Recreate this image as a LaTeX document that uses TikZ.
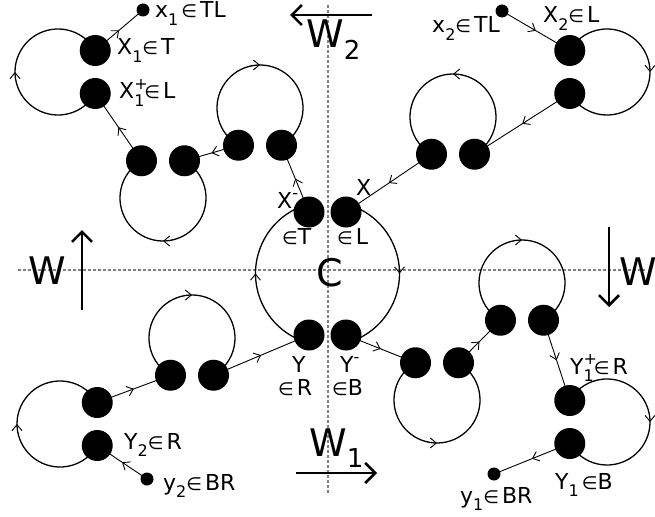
\documentclass[tikz,border=0pt]{standalone}
\usepackage{fontspec}
\setmainfont{DejaVu Sans}
\usetikzlibrary{calc,arrows.meta,decorations.markings}
\pgfdeclarelayer{bg}
\pgfsetlayers{bg,main}
\newcommand\sbs[1]{\raisebox{-0.32em}{\fontsize{16}{16}\selectfont #1}}
\newcommand\sps[1]{\raisebox{0.42em}{\fontsize{16}{16}\selectfont #1}}
\newcommand\bsbs[1]{\raisebox{-0.3em}{\fontsize{26}{26}\selectfont #1}}
\newcommand\inn{{\fontsize{18}{18}\selectfont ∈}}
\newcommand\gp{\hspace{3pt}}
\begin{document}
\begin{tikzpicture}[x=1pt,y=1pt,
  dot/.style={circle,fill=black,draw=none,minimum size=31pt,inner sep=0pt},
  smalldot/.style={circle,fill=black,draw=none,minimum size=13pt,inner sep=0pt},
  flow/.style={line width=0.9pt,postaction={decorate},
    decoration={markings,mark=at position 0.5 with {\arrow{Straight Barb[length=6pt,width=10pt,line width=0.9pt]}}}},
  loopline/.style={flow,line width=1.3pt},
  wdir/.style={line width=2.6pt,-{Straight Barb[length=10pt,width=20pt,line width=2.6pt]}},
  gridline/.style={draw=gray,line width=1.2pt,dash pattern=on 3pt off 2pt},
  lab/.style={font=\fontsize{22}{26}\selectfont,inner sep=0pt},
  big/.style={font=\fontsize{38}{44}\selectfont,inner sep=0pt}]
\useasboundingbox (0,0) rectangle (655,-516);
\begin{pgfonlayer}{bg}
\fill[white] (0,0) rectangle (655,-516);
\end{pgfonlayer}

% loop centres
\coordinate (c1) at (58,-72);
\coordinate (c2) at (163,-198);
\coordinate (c3) at (260,-108);
\coordinate (c4) at (607,-72);
\coordinate (c5) at (453,-117);
\coordinate (c6) at (192,-338);
\coordinate (c7) at (60,-424);
\coordinate (c8) at (437,-400);
\coordinate (c9) at (522,-283);
\coordinate (c10) at (607,-422);
\coordinate (cC) at (327.5,-273.5);

% big dots
\node[dot] (X1) at ($(c1)+(30:43)$) {};
\node[dot] (X1p) at ($(c1)+(-30:43)$) {};
\node[dot] (A2) at ($(c2)+(120:43)$) {};
\node[dot] (B2) at ($(c2)+(60:43)$) {};
\node[dot] (A3) at ($(c3)+(240:43)$) {};
\node[dot] (B3) at ($(c3)+(-60:43)$) {};
\node[dot] (X2) at ($(c4)+(150:43)$) {};
\node[dot] (D4) at ($(c4)+(210:43)$) {};
\node[dot] (A5) at ($(c5)+(240:43)$) {};
\node[dot] (B5) at ($(c5)+(-60:43)$) {};
\node[dot] (A6) at ($(c6)+(240:43)$) {};
\node[dot] (B6) at ($(c6)+(-60:43)$) {};
\node[dot] (E7) at ($(c7)+(30:43)$) {};
\node[dot] (Y2) at ($(c7)+(-30:43)$) {};
\node[dot] (A8) at ($(c8)+(120:43)$) {};
\node[dot] (B8) at ($(c8)+(60:43)$) {};
\node[dot] (A9) at ($(c9)+(240:43)$) {};
\node[dot] (B9) at ($(c9)+(-60:43)$) {};
\node[dot] (Y1p) at ($(c10)+(150:43)$) {};
\node[dot] (Y1) at ($(c10)+(210:43)$) {};
\node[dot] (Xm) at (309,-212) {};
\node[dot] (Xp) at (346,-212) {};
\node[dot] (Ym) at (309,-335) {};
\node[dot] (Yp) at (346,-335) {};

% small dots
\node[smalldot] (x1) at (143,-10) {};
\node[smalldot] (x2) at (502,-11) {};
\node[smalldot] (y2) at (147,-479) {};
\node[smalldot] (y1) at (494,-474) {};

% W arrows end points
\coordinate (w2s) at (372,-15); \coordinate (w2e) at (290,-15);
\coordinate (wls) at (82,-310); \coordinate (wle) at (82,-230);
\coordinate (wrs) at (609,-227); \coordinate (wre) at (609,-307);
\coordinate (w1s) at (296,-473); \coordinate (w1e) at (377,-473);
\coordinate (vT) at (328,-5); \coordinate (vB) at (328,-495);
\coordinate (hL) at (18,-270); \coordinate (hR) at (645,-270);

\begin{pgfonlayer}{bg}
\draw[gridline] (vT) -- (vB);
\draw[gridline] (hL) -- (hR);
% loops
\draw[loopline] (X1p.center) arc[start angle=-30,end angle=-330,radius=43pt];
\draw[loopline] (B2.center) arc[start angle=60,end angle=-240,radius=43pt];
\draw[loopline] (A3.center) arc[start angle=240,end angle=-60,radius=43pt];
\draw[loopline] (X2.center) arc[start angle=150,end angle=-150,radius=43pt];
\draw[loopline] (B5.center) arc[start angle=-60,end angle=240,radius=43pt];
\draw[loopline] (A6.center) arc[start angle=240,end angle=-60,radius=43pt];
\draw[loopline] (Y2.center) arc[start angle=-30,end angle=-330,radius=43pt];
\draw[loopline] (A8.center) arc[start angle=120,end angle=420,radius=43pt];
\draw[loopline] (A9.center) arc[start angle=240,end angle=-60,radius=43pt];
\draw[loopline] (Y1p.center) arc[start angle=150,end angle=-150,radius=43pt];
\draw[loopline] ([shift={(253.3:72)}]cC) arc[start angle=253.3,end angle=106.7,radius=72pt];
\draw[loopline] ([shift={(73.3:72)}]cC) arc[start angle=73.3,end angle=-73.3,radius=72pt];
% connectors
\draw[flow] (X1.center) -- (x1.center);
\draw[flow] (A2.center) -- (X1p.center);
\draw[flow] (A3.center) -- (B2.center);
\draw[flow] (Xm.center) -- (B3.center);
\draw[flow] (x2.center) -- (X2.center);
\draw[flow] (D4.center) -- (B5.center);
\draw[flow] (A5.center) -- (Xp.center);
\draw[flow] (E7.center) -- (A6.center);
\draw[flow] (B6.center) -- (Ym.center);
\draw[flow] (y2.center) -- (Y2.center);
\draw[flow] (Yp.center) -- (A8.center);
\draw[flow] (B8.center) -- (A9.center);
\draw[flow] (B9.center) -- (Y1p.center);
\draw[flow] (Y1.center) -- (y1.center);
\end{pgfonlayer}

% W arrows
\draw[wdir] (w2s) -- (w2e);
\draw[wdir] (wls) -- (wle);
\draw[wdir] (wrs) -- (wre);
\draw[wdir] (w1s) -- (w1e);

% big labels
\node[big,anchor=base west] (tW2) at (306,-48) {W\bsbs{2}};
\node[big,anchor=base west] (tWl) at (28,-284) {W};
\node[big,anchor=base west] (tWr) at (619,-285) {W};
\node[big,anchor=base west] (tW1) at (309,-456) {W\bsbs{1}};
\node[big] (tC) at (330,-273) {C};

% small labels
\node[lab,anchor=base west] (lx1) at (155,-18) {x\sbs{1}\gp\inn\gp TL};
\node[lab,anchor=base west] (lX1) at (117,-55) {X\sbs{1}\inn\gp T};
\node[lab,anchor=base west] (lX1p) at (119,-99) {X\rlap{\sps{+}}\sbs{1}\inn\gp L};
\node[lab,anchor=base east] (lx2) at (500,-33) {x\sbs{2}\inn\gp TL};
\node[lab,anchor=base west] (lX2) at (543,-23) {X\sbs{2}\inn\gp L};
\node[lab,anchor=base west] (lXm) at (277,-208) {X\sps{-}};
\node[lab,anchor=base west] (lXp) at (356,-195) {X};
\node[lab,anchor=base west] (lT) at (282,-244) {\inn T};
\node[lab,anchor=base west] (lL) at (337,-244) {\inn\gp L};
\node[lab,anchor=base west] (lY) at (292,-372) {Y};
\node[lab,anchor=base west] (lR) at (278,-395) {\inn\gp R};
\node[lab,anchor=base west] (lYm) at (340,-372) {Y\sps{-}};
\node[lab,anchor=base west] (lB) at (332,-395) {\inn B};
\node[lab,anchor=base west] (lY2) at (124,-449) {Y\sbs{2}\inn\gp R};
\node[lab,anchor=base west] (ly2) at (163,-490) {y\sbs{2}\inn\gp BR};
\node[lab,anchor=base west] (lY1p) at (570,-374) {Y\rlap{\sps{+}}\sbs{1}\inn\gp R};
\node[lab,anchor=base west] (lY1) at (555,-489) {Y\sbs{1}\gp\inn B};
\node[lab,anchor=base west] (ly1) at (460,-503) {y\sbs{1}\inn\gp BR};
\end{tikzpicture}
\end{document}
